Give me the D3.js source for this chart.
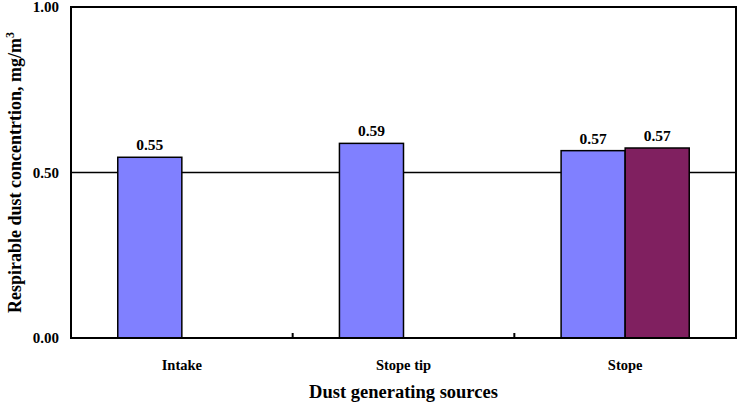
<!DOCTYPE html>
<html>
<head>
<meta charset="utf-8">
<script src="https://cdn.jsdelivr.net/npm/d3@7"></script>
<style>
    body { margin: 0; background: #fff; }
    svg text { font-family: "Liberation Serif", "Times New Roman", serif; font-weight: bold; fill: #000; }
</style>
</head>
<body>
<div id="chart"></div>
<script>
    const categories = ["Intake", "Stope tip", "Stope"];
    const seriesNames = ["s1", "s2"];
    const seriesOne = [0.546, 0.588, 0.566];
    const seriesTwo = [null, null, 0.574];
    const yTicks = [0, 0.5, 1];
    const gridValues = [0.5];

    const colors = {
        s1: '#8080ff',
        s2: '#802060'
    };

    const width = 742;
    const height = 404;
    const margin = {
        top: 7,
        right: 6,
        bottom: 66,
        left: 71
    };

    const svg = d3.select('#chart')
        .append('svg')
        .attr('width', width)
        .attr('height', height);

    const x0 = d3.scaleBand()
        .domain(categories)
        .range([margin.left, width - margin.right])
        .paddingInner(0)
        .paddingOuter(0);

    const x1 = d3.scaleBand()
        .domain(seriesNames)
        .range([0, x0.bandwidth()])
        .paddingInner(0)
        .paddingOuter(0.73);

    const y = d3.scaleLinear()
        .domain([0, 1])
        .range([height - margin.bottom, margin.top]);

    // gridline at 0.50
    svg.selectAll('.grid')
        .data(gridValues)
        .enter()
        .append('line')
        .attr('class', 'grid')
        .attr('x1', margin.left)
        .attr('x2', width - margin.right)
        .attr('y1', d => y(d))
        .attr('y2', d => y(d))
        .attr('stroke', '#000')
        .attr('stroke-width', 1.5);

    // bars
    const rows = [];
    categories.forEach((c, i) => {
        if (seriesOne[i] != null) rows.push({ cat: c, key: 's1', value: seriesOne[i] });
        if (seriesTwo[i] != null) rows.push({ cat: c, key: 's2', value: seriesTwo[i] });
    });

    svg.selectAll('.bar')
        .data(rows)
        .enter()
        .append('rect')
        .attr('class', 'bar')
        .attr('x', d => x0(d.cat) + x1(d.key))
        .attr('y', d => y(d.value))
        .attr('width', x1.bandwidth())
        .attr('height', d => y(0) - y(d.value))
        .attr('fill', d => colors[d.key])
        .attr('stroke', '#000')
        .attr('stroke-width', 1.5);

    svg.selectAll('.bar-label')
        .data(rows)
        .enter()
        .append('text')
        .attr('class', 'bar-label')
        .attr('x', d => x0(d.cat) + x1(d.key) + x1.bandwidth() / 2)
        .attr('y', d => y(d.value) - 7)
        .attr('text-anchor', 'middle')
        .style('font-size', '15.5px')
        .text(d => d3.format('.2f')(d.value));

    // frame
    svg.append('rect')
        .attr('x', margin.left)
        .attr('y', margin.top)
        .attr('width', width - margin.left - margin.right)
        .attr('height', height - margin.top - margin.bottom)
        .attr('fill', 'none')
        .attr('stroke', '#000')
        .attr('stroke-width', 2);

    // y axis
    const yAxisGroup = svg.append('g')
        .attr('transform', `translate(${margin.left}, 0)`)
        .call(d3.axisLeft(y)
            .tickValues(yTicks)
            .tickFormat(d3.format('.2f'))
            .tickSize(0)
            .tickPadding(12));
    yAxisGroup.select('.domain').remove();
    yAxisGroup.selectAll('text')
        .style('font-size', '15px')
        .style('font-family', '"Liberation Serif", serif');

    // x axis labels
    const xAxisGroup = svg.append('g')
        .attr('transform', `translate(0, ${height - margin.bottom})`)
        .call(d3.axisBottom(x0).tickSize(0).tickPadding(22));
    xAxisGroup.select('.domain').remove();
    xAxisGroup.selectAll('text')
        .style('font-size', '14.5px')
        .style('font-family', '"Liberation Serif", serif');

    // small inward ticks at category boundaries
    svg.selectAll('.cat-tick')
        .data(categories.slice(1))
        .enter()
        .append('line')
        .attr('class', 'cat-tick')
        .attr('x1', d => x0(d))
        .attr('x2', d => x0(d))
        .attr('y1', y(0))
        .attr('y2', y(0) - 5)
        .attr('stroke', '#000')
        .attr('stroke-width', 2);

    // axis titles
    svg.append('text')
        .attr('x', (margin.left + width - margin.right) / 2)
        .attr('y', 398)
        .attr('text-anchor', 'middle')
        .style('font-size', '18.5px')
        .text('Dust generating sources');

    const yTitle = svg.append('text')
        .attr('transform', `translate(21, ${(margin.top + height - margin.bottom) / 2}) rotate(-90)`)
        .attr('text-anchor', 'middle')
        .style('font-size', '18px');
    yTitle.append('tspan').text('Respirable dust concentrtion, mg/m');
    yTitle.append('tspan')
        .attr('dy', -7)
        .style('font-size', '12px')
        .text('3');
</script>
</body>
</html>
